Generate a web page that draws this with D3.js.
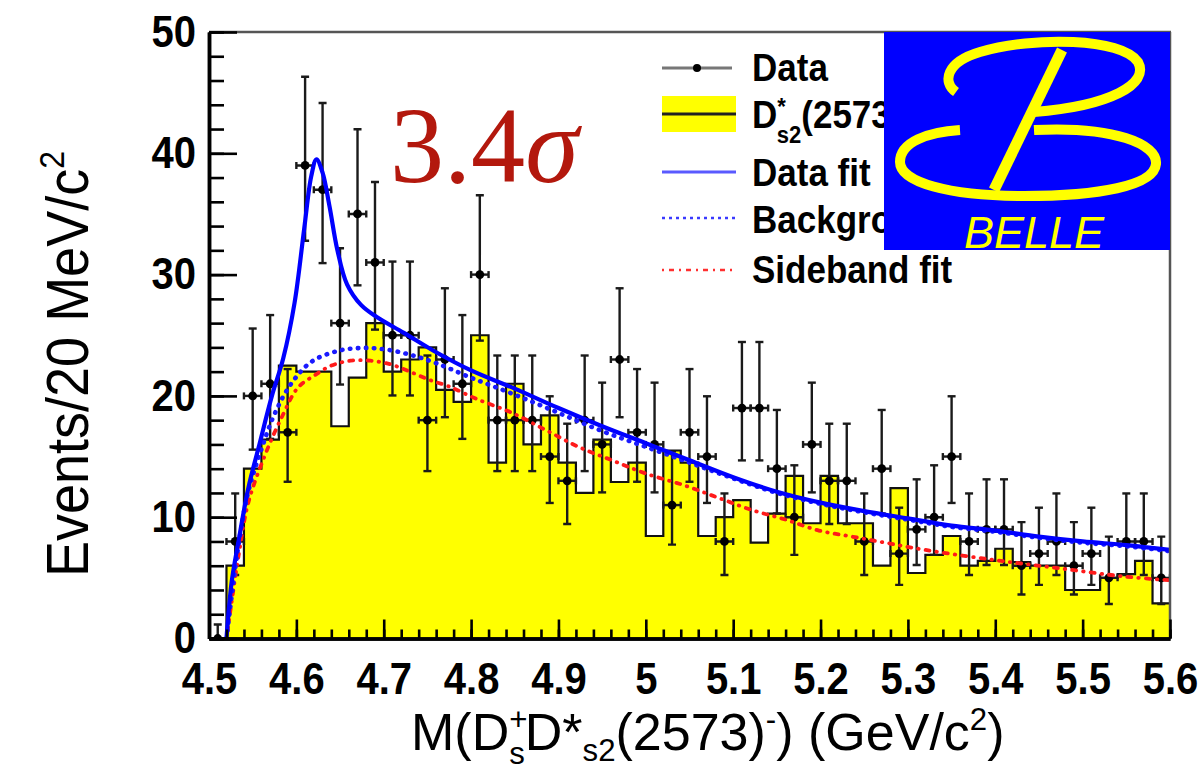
<!DOCTYPE html>
<html>
<head>
<meta charset="utf-8">
<script src="https://cdn.jsdelivr.net/npm/d3@7"></script>
<style>
  html, body { margin: 0; padding: 0; background: #ffffff; }
  svg { display: block; }
</style>
</head>
<body>
<svg id="chart" width="1200" height="767"></svg>
<script>
// ---- binning: 20 MeV/c^2 bins between 4.50 and 5.60 GeV/c^2 (bin centres) ----
const massBins = [
  4.51, 4.53, 4.55, 4.57, 4.59, 4.61, 4.63, 4.65, 4.67, 4.69,
  4.71, 4.73, 4.75, 4.77, 4.79, 4.81, 4.83, 4.85, 4.87, 4.89,
  4.91, 4.93, 4.95, 4.97, 4.99, 5.01, 5.03, 5.05, 5.07, 5.09,
  5.11, 5.13, 5.15, 5.17, 5.19, 5.21, 5.23, 5.25, 5.27, 5.29,
  5.31, 5.33, 5.35, 5.37, 5.39, 5.41, 5.43, 5.45, 5.47, 5.49,
  5.51, 5.53, 5.55, 5.57, 5.59
];
const binHalfWidth = 0.01;

// observed events per bin
const dataCounts = [
  0, 8, 20, 21, 17, 39, 37, 26, 35, 31,
  25, 25, 18, 23, 21, 30, 18, 18, 18, 15,
  13, 18, 16, 23, 17, 16, 11, 17, 15, 8,
  19, 19, 14, 10, 16, 13, 13, 8, 14, 7,
  9, 10, 15, 8, 9, 9, 6, 7, 8, 6,
  7, 5, 8, 8, 5
];

// scaled D*s2(2573) sideband histogram
const sidebandHist = [
  0, 6, 14, 16.4, 22.5, 22, 22, 17.5, 21.5, 26,
  22, 23, 24, 20.5, 19.5, 25, 14.5, 21, 16, 18.4,
  14.5, 12, 16.4, 12.9, 14.5, 8.45, 15.5, 14.5, 8.45, 10,
  11.4, 7.9, 10.3, 13.4, 9.5, 13.4, 9.5, 9.5, 6, 12.4,
  5.4, 6.9, 8.45, 6, 6.4, 7.4, 6.3, 6, 6, 4,
  4, 5, 5.3, 6.4, 2.9
];

// total fit to the data
const fitMass = [4.520, 4.526, 4.534, 4.545, 4.557, 4.572, 4.585, 4.598, 4.609, 4.617,
  4.623, 4.630, 4.638, 4.647, 4.658, 4.674, 4.692, 4.723, 4.760, 4.800,
  4.850, 4.900, 4.950, 5.000, 5.050, 5.100, 5.150, 5.200, 5.250, 5.300,
  5.350, 5.400, 5.450, 5.500, 5.550, 5.600];
const fitValues = [0, 4.7, 8.1, 12.4, 15.8, 20.0, 23.1, 27.7, 33.8, 38.1,
  39.5, 38.4, 35.6, 32.0, 29.2, 27.5, 26.5, 25.2, 23.6, 22.1,
  20.6, 19.0, 17.5, 16.1, 14.7, 13.3, 12.1, 11.2, 10.5, 9.9,
  9.3, 8.9, 8.4, 8.0, 7.7, 7.3];

// background component of the fit
const bkgMass = [4.520, 4.534, 4.545, 4.560, 4.575, 4.594, 4.617, 4.647, 4.674, 4.700,
  4.730, 4.760, 4.800, 4.850, 4.900, 4.950, 5.000, 5.050, 5.100, 5.150,
  5.200, 5.250, 5.300, 5.350, 5.400, 5.450, 5.500, 5.550, 5.600];
const bkgValues = [0, 7.8, 12.1, 15.6, 18.5, 21.0, 22.8, 23.7, 23.95, 23.85,
  23.4, 22.7, 21.5, 20.1, 18.6, 17.1, 15.8, 14.5, 13.2, 12.0,
  11.1, 10.4, 9.8, 9.2, 8.8, 8.3, 7.9, 7.6, 7.2];

// fit to the sideband histogram
const sbMass = [4.520, 4.534, 4.545, 4.564, 4.583, 4.602, 4.621, 4.640, 4.662, 4.685,
  4.708, 4.730, 4.753, 4.774, 4.808, 4.847, 4.885, 4.923, 4.961, 5.000,
  5.045, 5.083, 5.121, 5.160, 5.198, 5.236, 5.274, 5.320, 5.396, 5.472,
  5.549, 5.600];
const sbValues = [0, 6.9, 11.2, 15.1, 18.2, 20.7, 21.7, 22.5, 22.9, 22.9,
  22.6, 22.0, 21.3, 20.8, 19.7, 18.6, 17.2, 15.8, 14.7, 13.6,
  12.6, 11.6, 10.6, 9.8, 8.9, 8.4, 7.9, 7.3, 6.5, 5.8,
  5.1, 4.8];

// axis ticks
const xTickValues = [4.5, 4.6, 4.7, 4.8, 4.9, 5.0, 5.1, 5.2, 5.3, 5.4, 5.5, 5.6];
const xTickLabels = ["4.5", "4.6", "4.7", "4.8", "4.9", "5", "5.1", "5.2", "5.3", "5.4", "5.5", "5.6"];
const yTickValues = [0, 10, 20, 30, 40, 50];
const yTickLabels = ["0", "10", "20", "30", "40", "50"];

// ---- layout ----
const frame = { left: 209, right: 1170, top: 32, bottom: 638.5 };
const stretchY = 1.1;
const sans = "'Liberation Sans', Arial, Helvetica, sans-serif";
const serif = "'Liberation Serif', 'Times New Roman', serif";

const svg = d3.select("#chart");
const x = d3.scaleLinear().domain([4.5, 5.6]).range([frame.left, frame.right]);
const y = d3.scaleLinear().domain([0, 50]).range([frame.bottom, frame.top]);

svg.append("defs").append("clipPath").attr("id", "plotClip")
  .append("rect")
  .attr("x", frame.left).attr("y", frame.top)
  .attr("width", frame.right - frame.left).attr("height", frame.bottom - frame.top);

const plot = svg.append("g").attr("clip-path", "url(#plotClip)");

// ---- sideband histogram (filled steps) ----
const stepPts = [];
massBins.forEach((m, i) => {
  stepPts.push([m - binHalfWidth, sidebandHist[i]]);
  stepPts.push([m + binHalfWidth, sidebandHist[i]]);
});
plot.append("path")
  .datum(stepPts)
  .attr("fill", "#ffff00")
  .attr("d", d3.area().x(d => x(d[0])).y0(y(0)).y1(d => y(d[1])));
plot.append("path")
  .datum(stepPts)
  .attr("fill", "none")
  .attr("stroke", "#111")
  .attr("stroke-width", 2.2)
  .attr("d", d3.line().x(d => x(d[0])).y(d => y(d[1])));

// ---- data points with Poisson (Gehrels) errors ----
function poissonUp(n) { return n === 0 ? 1.15 : n + 1 + Math.sqrt(n + 0.75); }
function poissonLow(n) { return n === 0 ? 0 : n * Math.pow(1 - 1 / (9 * n) - 1 / (3 * Math.sqrt(n)), 3); }

const pts = plot.append("g").attr("stroke", "#1a1a1a").attr("stroke-width", 2.4);
massBins.forEach((m, i) => {
  const n = dataCounts[i];
  const cx = x(m), cy = y(n);
  const yt = y(poissonUp(n)), yb = y(poissonLow(n));
  const xl = x(m - binHalfWidth), xr = x(m + binHalfWidth);
  pts.append("line").attr("x1", cx).attr("x2", cx).attr("y1", yt).attr("y2", yb);
  pts.append("line").attr("x1", cx - 4).attr("x2", cx + 4).attr("y1", yt).attr("y2", yt);
  if (n > 0) pts.append("line").attr("x1", cx - 4).attr("x2", cx + 4).attr("y1", yb).attr("y2", yb);
  pts.append("line").attr("x1", xl).attr("x2", xr).attr("y1", cy).attr("y2", cy);
  pts.append("line").attr("x1", xl).attr("x2", xl).attr("y1", cy - 3.5).attr("y2", cy + 3.5);
  pts.append("line").attr("x1", xr).attr("x2", xr).attr("y1", cy - 3.5).attr("y2", cy + 3.5);
  pts.append("circle").attr("cx", cx).attr("cy", cy).attr("r", 4.4).attr("fill", "#000").attr("stroke", "none");
});

// ---- fit curves ----
const curve = d3.line().x(d => x(d[0])).y(d => y(d[1])).curve(d3.curveCatmullRom.alpha(0.5));
plot.append("path")
  .datum(d3.zip(sbMass, sbValues))
  .attr("fill", "none").attr("stroke", "#ff1a1a").attr("stroke-width", 3.8)
  .attr("stroke-dasharray", "0.5 7 4 7").attr("stroke-linecap", "round")
  .attr("d", curve);
plot.append("path")
  .datum(d3.zip(bkgMass, bkgValues))
  .attr("fill", "none").attr("stroke", "#1a1aff").attr("stroke-width", 4.6)
  .attr("stroke-dasharray", "0.5 7.5").attr("stroke-linecap", "round")
  .attr("d", curve);
plot.append("path")
  .datum(d3.zip(fitMass, fitValues))
  .attr("fill", "none").attr("stroke", "#0000ff").attr("stroke-width", 4.2)
  .attr("d", curve);

// ---- frame ----
svg.append("line").attr("x1", frame.left).attr("x2", frame.right + 1)
  .attr("y1", frame.top).attr("y2", frame.top).attr("stroke", "#555").attr("stroke-width", 2.5);
svg.append("line").attr("x1", frame.right).attr("x2", frame.right)
  .attr("y1", frame.top).attr("y2", frame.bottom).attr("stroke", "#555").attr("stroke-width", 2.5);

// ---- axes (ticks drawn inward) ----
const xMinor = d3.range(0, 56).map(i => 4.5 + i * 0.02);
const yMinor = d3.range(0, 26).map(i => i * 2);

const xAxisG = svg.append("g").attr("transform", `translate(0,${frame.bottom})`);
xAxisG.append("g").call(d3.axisBottom(x).tickValues(xMinor).tickSizeInner(-9).tickSizeOuter(0).tickFormat(""));
const xMajor = xAxisG.append("g").call(d3.axisBottom(x).tickValues(xTickValues).tickSizeInner(-19).tickSizeOuter(0)
  .tickFormat((d, i) => xTickLabels[i]));
xAxisG.selectAll(".domain").attr("stroke", "#000").attr("stroke-width", 3.5);
xAxisG.selectAll(".tick line").attr("stroke", "#000").attr("stroke-width", 2.6);
xMajor.selectAll(".tick text")
  .attr("fill", "#000").attr("font-family", sans).attr("font-size", 40).attr("font-weight", "bold")
  .attr("dy", 0).attr("y", 55.5 / stretchY)
  .attr("transform", `scale(1,${stretchY})`);

const yAxisG = svg.append("g").attr("transform", `translate(${frame.left},0)`);
yAxisG.append("g").call(d3.axisLeft(y).tickValues(yMinor).tickSizeInner(-15).tickSizeOuter(0).tickFormat(""));
const yMajor = yAxisG.append("g").call(d3.axisLeft(y).tickValues(yTickValues).tickSizeInner(-28).tickSizeOuter(0)
  .tickFormat((d, i) => yTickLabels[i]));
yAxisG.selectAll(".domain").attr("stroke", "#000").attr("stroke-width", 3.5);
yAxisG.selectAll(".tick line").attr("stroke", "#000").attr("stroke-width", 2.6);
yMajor.selectAll(".tick text")
  .attr("fill", "#000").attr("font-family", sans).attr("font-size", 40).attr("font-weight", "bold")
  .attr("text-anchor", "end")
  .attr("x", -13).attr("dy", 0).attr("y", 14.3 / stretchY)
  .attr("transform", `scale(1,${stretchY})`);

// ---- axis titles ----
const xt = svg.append("g").attr("transform", "translate(411,750) scale(1.04,1.04)")
  .append("text").attr("font-family", sans).attr("font-size", 50).attr("fill", "#000");
xt.append("tspan").text("M(D");
xt.append("tspan").attr("font-size", 30).attr("dy", -19).text("+");
xt.append("tspan").attr("font-size", 30).attr("dx", -17.5).attr("dy", 32).text("s");
xt.append("tspan").attr("dy", -13).text("D*");
xt.append("tspan").attr("font-size", 30).attr("dy", 11).text("s2");
xt.append("tspan").attr("dy", -11).text("(2573)");
xt.append("tspan").attr("font-size", 30).attr("dy", -19).text("-");
xt.append("tspan").attr("dy", 19).text(") (GeV/c");
xt.append("tspan").attr("font-size", 30).attr("dy", -19).text("2");
xt.append("tspan").attr("dy", 19).text(")");

const yt = svg.append("g").attr("transform", "translate(88,364) rotate(-90) scale(1,1.08)")
  .append("text").attr("font-family", sans).attr("font-size", 54).attr("fill", "#000")
  .attr("text-anchor", "middle");
yt.append("tspan").text("Events/20 MeV/c");
yt.append("tspan").attr("font-size", 32).attr("dy", -22).text("2");

// ---- significance label ----
const sig = svg.append("g").attr("transform", "translate(390,182) scale(1.06,1.06)")
  .append("text").attr("font-family", serif).attr("font-size", 102).attr("fill", "#b3180d");
sig.append("tspan").text("3.4");
sig.append("tspan").attr("font-style", "italic").text("σ");

// ---- legend ----
const leg = svg.append("g");
const legText = (yb, build) => {
  const t = leg.append("g").attr("transform", `translate(752,${yb}) scale(1,${stretchY})`)
    .append("text").attr("font-family", sans).attr("font-size", 35).attr("font-weight", "bold").attr("fill", "#000");
  build(t);
};
// Data
leg.append("line").attr("x1", 662).attr("x2", 732).attr("y1", 68).attr("y2", 68)
  .attr("stroke", "#777").attr("stroke-width", 3);
leg.append("circle").attr("cx", 697).attr("cy", 68).attr("r", 4).attr("fill", "#000");
legText(81, t => t.text("Data"));
// sideband histogram
leg.append("rect").attr("x", 662).attr("y", 96).attr("width", 74).attr("height", 36).attr("fill", "#ffff00");
leg.append("line").attr("x1", 662).attr("x2", 736).attr("y1", 114).attr("y2", 114)
  .attr("stroke", "#222").attr("stroke-width", 3);
legText(128, t => {
  t.append("tspan").text("D");
  t.append("tspan").attr("font-size", 22).attr("dy", -12).text("*");
  t.append("tspan").attr("font-size", 22).attr("dx", -9).attr("dy", 26).text("s2");
  t.append("tspan").attr("dy", -14).text("(2573)");
});
// Data fit
leg.append("line").attr("x1", 662).attr("x2", 736).attr("y1", 172).attr("y2", 172)
  .attr("stroke", "#5a5aff").attr("stroke-width", 3);
legText(186, t => t.text("Data fit"));
// Background
leg.append("line").attr("x1", 662).attr("x2", 736).attr("y1", 218).attr("y2", 218)
  .attr("stroke", "#3a3aff").attr("stroke-width", 2.5).attr("stroke-dasharray", "3 4");
legText(233, t => t.text("Background"));
// Sideband fit
leg.append("line").attr("x1", 662).attr("x2", 736).attr("y1", 270).attr("y2", 270)
  .attr("stroke", "#ff3030").attr("stroke-width", 2.5).attr("stroke-dasharray", "2 5 5 5");
legText(283, t => t.text("Sideband fit"));

// ---- collaboration logo ----
const logo = svg.append("g").attr("transform", "translate(884,32)");
logo.append("rect").attr("width", 286).attr("height", 218).attr("fill", "#0000ff");
const ly = logo.append("g").attr("fill", "none").attr("stroke", "#ffff00").attr("stroke-width", 10)
  .attr("stroke-linecap", "butt");
// upper bowl with its curled end
ly.append("path").attr("d", "M 72,60 C 58,50 62,30 96,20 C 150,4 238,6 254,30 C 266,52 226,74 150,80");
// lower bowl
ly.append("path").attr("d", "M 150,98 C 230,94 274,112 272,132 C 270,154 214,164 140,164 C 64,164 16,150 16,130 C 16,110 44,100 76,98");
// slanted stem
ly.append("path").attr("d", "M 178,18 L 110,158").attr("stroke-width", 11);
logo.append("text").attr("x", 80).attr("y", 216)
  .attr("font-family", sans).attr("font-style", "italic").attr("font-size", 45)
  .attr("fill", "#ffff00")
  .text("BELLE");
</script>
</body>
</html>
